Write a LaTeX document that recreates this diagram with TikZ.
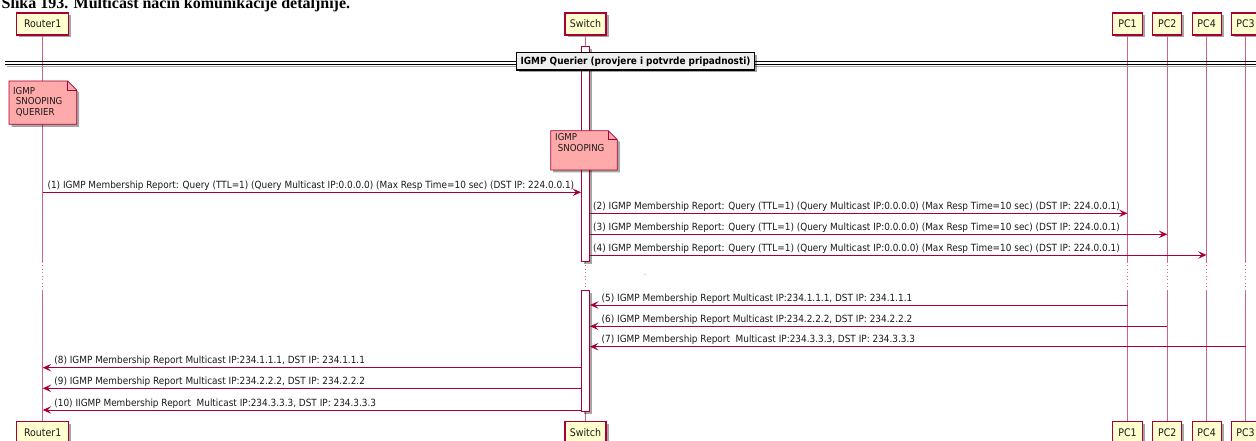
\documentclass[tikz,border=0pt]{standalone}
\usepackage{fontspec}
\setmainfont{DejaVu Sans}
\newfontfamily\msgfont[FakeStretch=0.9]{DejaVu Sans}
\newfontfamily\titlefont{Liberation Serif}
\usetikzlibrary{arrows.meta,shadows}
\definecolor{pred}{HTML}{A80036}
\definecolor{pyel}{HTML}{FEFECE}
\definecolor{pnote}{HTML}{FFAAAA}
\definecolor{pgray}{HTML}{EEEEEE}
\definecolor{ptext}{HTML}{1A1A1A}
\begin{document}
\begin{tikzpicture}[x=1pt,y=-1pt,
  shad/.style={drop shadow={shadow xshift=2.5pt,shadow yshift=-2.5pt,opacity=0.35,fill=black}},
  part/.style={draw=pred,fill=pyel,line width=1.1pt,inner sep=0pt,minimum height=22pt,
    font=\msgfont\fontsize{10.5}{12}\selectfont,text=ptext,shad},
  life/.style={draw=pred!60,line width=0.8pt},
  dots/.style={draw=pred!55,line width=0.8pt,dash pattern=on 1pt off 2.5pt},
  actbar/.style={draw=pred,fill=white,line width=0.9pt,inner sep=0pt,minimum width=8pt,shad},
  msg/.style={draw=pred,line width=0.9pt,-{Stealth[length=8.5pt,width=7.5pt,inset=3.5pt]}},
  lbl/.style={anchor=base west,inner sep=0pt,font=\msgfont\fontsize{9.9}{12}\selectfont,text=ptext},
  notebox/.style={draw=pred,fill=pnote,line width=0.7pt,shad},
  notetxt/.style={anchor=base west,inner sep=0pt,align=left,font=\msgfont\fontsize{9.6}{10.7}\selectfont,text=ptext},
]
\useasboundingbox (0,0) rectangle (1256,441);
\fill[white] (0,0) rectangle (1256,441);

% title
\node[anchor=base west,inner sep=0pt,font=\titlefont\bfseries\fontsize{16}{18}\selectfont] (title) at (1.5,9) {Slika 193. Multicast način komunikacije detaljnije.};

% delay coordinates
\coordinate (d1) at (0,261.5);
\coordinate (d2) at (0,290.5);

% participants top
\node[part,minimum width=52pt] (r1t) at (42.7,24) {Router1};
\node[part,minimum width=41pt] (swt) at (585.5,24) {Switch};
\node[part,minimum width=30pt] (p1t) at (1127.5,24) {PC1};
\node[part,minimum width=29pt] (p2t) at (1167.3,24) {PC2};
\node[part,minimum width=29pt] (p4t) at (1206.6,24) {PC4};
\node[part,minimum width=28pt] (p3t) at (1245.5,24) {PC3};
% participants bottom
\node[part,minimum width=52pt] (r1b) at (42.7,432.7) {Router1};
\node[part,minimum width=41pt] (swb) at (585.5,432.7) {Switch};
\node[part,minimum width=30pt] (p1b) at (1127.5,432.7) {PC1};
\node[part,minimum width=29pt] (p2b) at (1167.3,432.7) {PC2};
\node[part,minimum width=29pt] (p4b) at (1206.6,432.7) {PC4};
\node[part,minimum width=28pt] (p3b) at (1245.5,432.7) {PC3};

% lifelines
\foreach \p in {r1,sw,p1,p2,p4,p3}{
  \draw[life] (\p t.south) -- (\p t.south |- d1);
  \draw[dots] (\p t.south |- d1) -- (\p t.south |- d2);
  \draw[life] (\p t.south |- d2) -- (\p b.north);
}

% activation bars
\node[actbar,minimum height=214.8pt] (bar1) at (585.5,154.1) {};
\node[actbar,minimum height=120.5pt] (bar2) at (585.5,350.75) {};

% divider
\draw[black!35,line width=1.2pt] (7,66.5) -- (1256,66.5);
\draw[black,line width=0.9pt] (5,61) -- (1256,61);
\draw[black,line width=0.9pt] (5,64) -- (1256,64);
\node[draw=black,fill=pgray,line width=1.3pt,minimum width=237.6pt,minimum height=17.3pt,inner sep=0pt,
  font=\msgfont\bfseries\fontsize{9.9}{12}\selectfont,shad] (div) at (635.5,61.35) {IGMP Querier (provjere i potvrde pripadnosti)};

% notes
\path[notebox] (9,81) -- (67.7,81) -- (76.7,90) -- (76.7,124.3) -- (9,124.3) -- cycle;
\draw[pred,line width=0.7pt] (67.7,81) -- (67.7,90) -- (76.7,90);
\node[notetxt] (n1) at (13,115.7) {IGMP\\\ SNOOPING\\\ QUERIER};

\path[notebox] (550.7,130.7) -- (608.3,130.7) -- (617.3,139.7) -- (617.3,170) -- (550.7,170) -- cycle;
\draw[pred,line width=0.7pt] (608.3,130.7) -- (608.3,139.7) -- (617.3,139.7);
\node[notetxt] (n2) at (555,151.3) {IGMP\\\ SNOOPING};

% delay mark
\node[inner sep=0pt,font=\msgfont\fontsize{7}{7}\selectfont,text=black!60] (delay) at (645,275) {.};

% message rows
\coordinate (y1) at (0,192.3);
\coordinate (y2) at (0,213.3);
\coordinate (y3) at (0,234.3);
\coordinate (y4) at (0,255);
\coordinate (y5) at (0,305);
\coordinate (y6) at (0,326.3);
\coordinate (y7) at (0,346.7);
\coordinate (y8) at (0,367.7);
\coordinate (y9) at (0,388.3);
\coordinate (y10) at (0,410);

\draw[msg] (r1t |- y1) -- (bar1.west |- y1);
\node[lbl] (m1) at (47.4,188.5) {(1) IGMP Membership Report: Query (TTL=1) (Query Multicast IP:0.0.0.0) (Max Resp Time=10 sec) (DST IP: 224.0.0.1)};
\draw[msg] (bar1.east |- y2) -- (p1t |- y2);
\node[lbl] (m2) at (593,209.5) {(2) IGMP Membership Report: Query (TTL=1) (Query Multicast IP:0.0.0.0) (Max Resp Time=10 sec) (DST IP: 224.0.0.1)};
\draw[msg] (bar1.east |- y3) -- (p2t |- y3);
\node[lbl] (m3) at (593,230.5) {(3) IGMP Membership Report: Query (TTL=1) (Query Multicast IP:0.0.0.0) (Max Resp Time=10 sec) (DST IP: 224.0.0.1)};
\draw[msg] (bar1.east |- y4) -- (p4t |- y4);
\node[lbl] (m4) at (593,251.2) {(4) IGMP Membership Report: Query (TTL=1) (Query Multicast IP:0.0.0.0) (Max Resp Time=10 sec) (DST IP: 224.0.0.1)};

\draw[msg] (p1t |- y5) -- (bar2.east |- y5);
\node[lbl] (m5) at (601.5,301.2) {(5) IGMP Membership Report Multicast IP:234.1.1.1, DST IP: 234.1.1.1};
\draw[msg] (p2t |- y6) -- (bar2.east |- y6);
\node[lbl] (m6) at (601.5,322.5) {(6) IGMP Membership Report Multicast IP:234.2.2.2, DST IP: 234.2.2.2};
\draw[msg] (p3t |- y7) -- (bar2.east |- y7);
\node[lbl] (m7) at (601.5,342.9) {(7) IGMP Membership Report\ \ Multicast IP:234.3.3.3, DST IP: 234.3.3.3};

\draw[msg] (bar2.west |- y8) -- (r1t |- y8);
\node[lbl] (m8) at (54.2,363.9) {(8) IGMP Membership Report Multicast IP:234.1.1.1, DST IP: 234.1.1.1};
\draw[msg] (bar2.west |- y9) -- (r1t |- y9);
\node[lbl] (m9) at (54.2,384.5) {(9) IGMP Membership Report Multicast IP:234.2.2.2, DST IP: 234.2.2.2};
\draw[msg] (bar2.west |- y10) -- (r1t |- y10);
\node[lbl] (m10) at (54.2,406.2) {(10) IIGMP Membership Report\ \ Multicast IP:234.3.3.3, DST IP: 234.3.3.3};
\end{tikzpicture}
\end{document}
